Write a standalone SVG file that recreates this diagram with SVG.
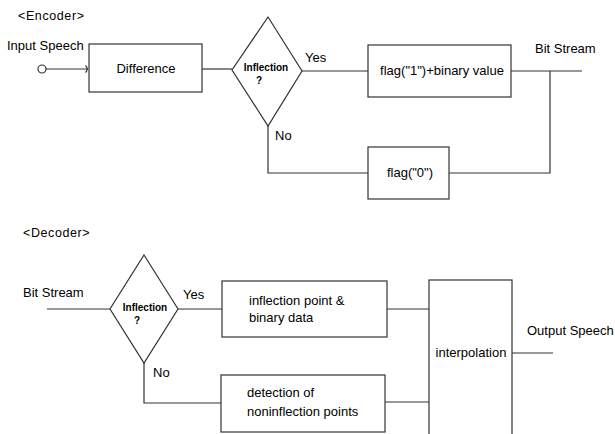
<svg xmlns="http://www.w3.org/2000/svg" width="615" height="434" viewBox="0 0 615 434">
<style>
text{font-family:"Liberation Sans",Arial,sans-serif;fill:#000;font-size:13px}
.hd{font-size:12.5px;letter-spacing:0.6px}
.sm{font-size:10px;font-weight:bold}
.box{fill:#fff;stroke:#333;stroke-width:1.2}
.ln{fill:none;stroke:#333;stroke-width:1.2}
.mid{text-anchor:middle}
</style>
<rect width="615" height="434" fill="#fff"/>
<text class="hd" x="18" y="20">&lt;Encoder&gt;</text>
<text x="7" y="50">Input Speech</text>
<text x="535" y="53">Bit Stream</text>
<text x="305" y="62">Yes</text>
<text x="275" y="140">No</text>
<text class="hd" x="23" y="237">&lt;Decoder&gt;</text>
<text x="23" y="297">Bit Stream</text>
<text x="183" y="299">Yes</text>
<text x="153" y="377">No</text>
<text x="527" y="335">Output Speech</text>
<g id="connectors">
<circle cx="42" cy="69" r="4" class="ln"/>
<path class="ln" d="M46,69 H88"/>
<path class="ln" d="M85.5,65.5 Q89,69 85.5,72.5"/>
<path class="ln" d="M202,69 H232"/>
<path class="ln" d="M302,71 H368"/>
<path class="ln" d="M511,71 H582 M550,71 V173 H449"/>
<path class="ln" d="M268,126 V173 H368"/>
<path class="ln" d="M47,309 H110"/>
<path class="ln" d="M178,309 H222"/>
<path class="ln" d="M144,363 V403 H221"/>
<path class="ln" d="M387,309 H429"/>
<path class="ln" d="M385,402 H429"/>
<path class="ln" d="M512,353 H553"/>
</g>
<g id="difference">
<rect class="box" x="89" y="44" width="113" height="48"/>
<text class="mid" x="146" y="73">Difference</text>
</g>
<g id="enc-decision">
<polygon class="box" points="268,17 302,71 268,126 232,70"/>
<text class="sm mid" x="266" y="71">Inflection</text>
<text class="sm mid" x="259" y="84">?</text>
</g>
<g id="flag1">
<rect class="box" x="368" y="45" width="143" height="52"/>
<text class="mid" x="442" y="75">flag("1")+binary value</text>
</g>
<g id="flag0">
<rect class="box" x="368" y="147" width="81" height="52"/>
<text class="mid" x="410" y="177">flag("0")</text>
</g>
<g id="dec-decision">
<polygon class="box" points="144,255 178,309 144,363 110,309"/>
<text class="sm mid" x="145" y="311">Inflection</text>
<text class="sm mid" x="137" y="324">?</text>
</g>
<g id="inflection-data">
<rect class="box" x="222" y="281" width="165" height="56"/>
<text x="249" y="305">inflection point &amp;</text>
<text x="249" y="322">binary data</text>
</g>
<g id="noninflection">
<rect class="box" x="221" y="375" width="164" height="57"/>
<text x="247" y="397">detection of</text>
<text x="247" y="416">noninflection points</text>
</g>
<g id="interpolation">
<rect class="box" x="429" y="280" width="83" height="170"/>
<text class="mid" x="471" y="357">interpolation</text>
</g>
</svg>
